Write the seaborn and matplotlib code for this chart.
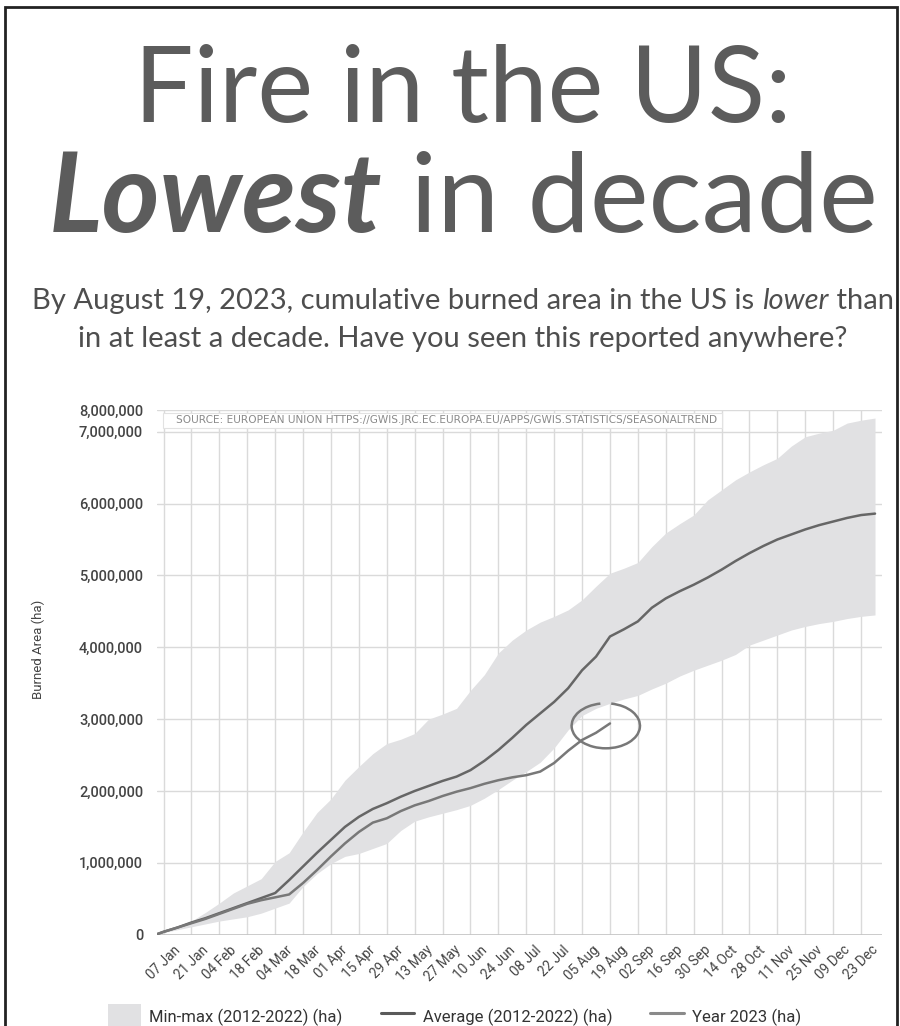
import numpy as np
import pandas as pd
import seaborn as sns
import matplotlib.pyplot as plt
from matplotlib.patches import Rectangle, Arc, Patch
from matplotlib.lines import Line2D
from matplotlib.ticker import FuncFormatter

# weekly points, day of year
days = [4, 7, 14, 21, 28, 35, 42, 49, 56, 63, 70, 77, 84, 91, 98, 105, 112, 119, 126,
        133, 140, 147, 154, 161, 168, 175, 182, 189, 196, 203, 210, 217, 224, 231, 238,
        245, 252, 259, 266, 273, 280, 287, 294, 301, 308, 315, 322, 329, 336, 343, 350,
        357, 364]
# millions of ha
min_m = [0.00, 0.03, 0.07, 0.11, 0.15, 0.19, 0.22, 0.25, 0.30, 0.37, 0.44, 0.67, 0.85,
         0.99, 1.09, 1.13, 1.20, 1.27, 1.45, 1.58, 1.64, 1.69, 1.74, 1.80, 1.90, 2.02,
         2.15, 2.27, 2.40, 2.60, 2.85, 3.05, 3.15, 3.22, 3.28, 3.33, 3.42, 3.50, 3.60,
         3.68, 3.75, 3.82, 3.90, 4.03, 4.10, 4.17, 4.24, 4.29, 4.33, 4.36, 4.40, 4.43, 4.45]
max_m = [0.01, 0.05, 0.12, 0.19, 0.31, 0.44, 0.58, 0.68, 0.78, 1.02, 1.14, 1.43, 1.70,
         1.89, 2.15, 2.34, 2.52, 2.66, 2.72, 2.80, 3.00, 3.07, 3.15, 3.40, 3.62, 3.92,
         4.10, 4.24, 4.35, 4.43, 4.52, 4.66, 4.85, 5.03, 5.10, 5.18, 5.40, 5.59, 5.72,
         5.84, 6.05, 6.19, 6.33, 6.44, 6.54, 6.63, 6.80, 6.93, 6.98, 7.02, 7.12, 7.16, 7.19]
avg_m = [0.01, 0.04, 0.10, 0.17, 0.23, 0.30, 0.37, 0.44, 0.51, 0.58, 0.76, 0.95, 1.14,
         1.32, 1.50, 1.64, 1.75, 1.83, 1.92, 2.00, 2.07, 2.14, 2.20, 2.29, 2.42, 2.57,
         2.74, 2.92, 3.08, 3.24, 3.43, 3.68, 3.87, 4.15, 4.25, 4.36, 4.55, 4.68, 4.78,
         4.87, 4.97, 5.08, 5.20, 5.31, 5.41, 5.50, 5.57, 5.64, 5.70, 5.75, 5.80, 5.84, 5.86]
days_2023 = days[:34]
y2023_m = [0.01, 0.04, 0.10, 0.16, 0.22, 0.29, 0.36, 0.43, 0.48, 0.52, 0.56, 0.72, 0.90,
           1.09, 1.27, 1.43, 1.56, 1.62, 1.72, 1.80, 1.86, 1.93, 1.99, 2.04, 2.10, 2.15,
           2.19, 2.22, 2.27, 2.39, 2.56, 2.71, 2.81, 2.94]

tick_days = [7, 21, 35, 49, 63, 77, 91, 105, 119, 133, 147, 161, 175, 189, 203, 217, 231,
             245, 259, 273, 287, 301, 315, 329, 343, 357]
tick_labels = ['07 Jan', '21 Jan', '04 Feb', '18 Feb', '04 Mar', '18 Mar', '01 Apr',
               '15 Apr', '29 Apr', '13 May', '27 May', '10 Jun', '24 Jun', '08 Jul',
               '22 Jul', '05 Aug', '19 Aug', '02 Sep', '16 Sep', '30 Sep', '14 Oct',
               '28 Oct', '11 Nov', '25 Nov', '09 Dec', '23 Dec']
y_ticks = [0, 1e6, 2e6, 3e6, 4e6, 5e6, 6e6, 7e6, 8e6]

df = pd.DataFrame({'day': days, 'min': np.array(min_m) * 1e6,
                   'max': np.array(max_m) * 1e6, 'avg': np.array(avg_m) * 1e6})
df23 = pd.DataFrame({'day': days_2023, 'y': np.array(y2023_m) * 1e6})

TXT = '#5c5c5c'
BAND = '#e1e1e3'
AVG_C = '#666666'
Y23_C = '#787878'

sns.set_style('white')
plt.rcParams['font.family'] = ['Roboto', 'DejaVu Sans']

fig = plt.figure(figsize=(9, 10.26), dpi=100)
W, H = 900, 1026
ax = fig.add_axes([157 / W, 1 - 934.7 / H, 725 / W, 524.7 / H])

# top of the original chart was cut: squeeze everything above 7.2M
BRK, K = 7.2e6, 0.1275
def fwd(y):
    y = np.asarray(y, dtype=float)
    return np.where(y <= BRK, y, BRK + (y - BRK) * K)
def inv(y):
    y = np.asarray(y, dtype=float)
    return np.where(y <= BRK, y, BRK + (y - BRK) / K)
ax.set_yscale('function', functions=(fwd, inv))

ax.fill_between(df['day'], df['min'], df['max'], color=BAND, lw=0, zorder=1)
sns.lineplot(data=df, x='day', y='avg', ax=ax, color=AVG_C, lw=1.8, zorder=3)
sns.lineplot(data=df23, x='day', y='y', ax=ax, color=Y23_C, lw=1.8, zorder=3)

X0, X1 = 3.7, 367.5
ax.set_xlim(X0, X1)
ax.set_ylim(0, 8e6)

# hand-drawn circle round the end of the 2023 line (axes coords, the y scale is not affine)
cx, cy = ax.transAxes.inverted().transform(ax.transData.transform((228.9, 2.907e6)))
ax.add_patch(Arc((cx, cy), 34.3 / (X1 - X0), 0.626e6 / float(fwd(8e6)), theta1=100,
                 theta2=440, transform=ax.transAxes, color=Y23_C, lw=1.8, zorder=4))

ax.set_yticks(y_ticks)
ax.yaxis.set_major_formatter(FuncFormatter(lambda v, p: f'{v:,.0f}'))
ax.yaxis.set_minor_locator(plt.NullLocator())
ax.set_xticks(tick_days)
ax.set_xticklabels(tick_labels, rotation=45, ha='center', va='top')
ax.tick_params(axis='x', length=0, pad=6, labelsize=9.8, labelcolor='#444444')
ax.tick_params(axis='y', length=0, pad=10, labelsize=10.5, labelcolor='#444444')
for t in ax.get_yticklabels():
    t.set_fontweight('medium')
ax.grid(True, color='#dadada', lw=1)
ax.set_axisbelow(True)
for s in ax.spines.values():
    s.set_visible(False)
ax.axhline(0, color='#c4c4c4', lw=1.2, zorder=0.6)
ax.set_xlabel('')
ax.set_ylabel('Burned Area (ha)', fontsize=9.5, color='#444444')
ax.yaxis.set_label_coords(-0.1545, 0.543)

# source box
ax.add_patch(Rectangle((0.008, 0.966), 0.771, 0.028, transform=ax.transAxes,
                       facecolor='white', edgecolor='#e2e2e2', lw=0.8, zorder=5))
ax.text(0.026, 0.98, 'SOURCE: EUROPEAN UNION HTTPS://GWIS.JRC.EC.EUROPA.EU/APPS/GWIS.STATISTICS/SEASONALTREND',
        transform=ax.transAxes, fontsize=7.6, color='#8a8a8a', va='center', zorder=6,
        family=['Liberation Sans Narrow', 'DejaVu Sans'])

# legend
handles = [Patch(facecolor=BAND, edgecolor='none'),
           Line2D([], [], color='#5a5a5a', lw=2.2),
           Line2D([], [], color='#8a8a8a', lw=2.2)]
labels = ['Min-max (2012-2022) (ha)', 'Average (2012-2022) (ha)', 'Year 2023 (ha)']
fig.legend(handles, labels, loc='center', bbox_to_anchor=(0.505, 1 - 1017 / H), ncol=3,
           frameon=False, fontsize=12, handlelength=2, handleheight=2,
           columnspacing=2.3, handletextpad=0.5, labelcolor='#333333')

# titles
renderer = fig.canvas.get_renderer()
def rich_line(parts, y_px, size, color=TXT, cx=463):
    objs = [fig.text(0, 1 - y_px / H, s, fontsize=size, color=color, va='baseline',
                     family=['Lato', 'DejaVu Sans'], **kw) for s, kw in parts]
    widths = [o.get_window_extent(renderer).width for o in objs]
    x = cx - sum(widths) / 2
    for o, w in zip(objs, widths):
        o.set_x(x / W)
        x += w

rich_line([('Fire in the US:', {})], 122, 76)
rich_line([('Lowest', {'fontweight': 'bold', 'fontstyle': 'italic'}),
           (' in decade', {})], 232, 80)
rich_line([('By August 19, 2023, cumulative burned area in the US is ', {}),
           ('lower', {'fontstyle': 'italic'}), (' than', {})], 309, 21, '#4e4e4e')
rich_line([('in at least a decade. Have you seen this reported anywhere?', {})], 347, 21,
          '#4e4e4e')

fig.add_artist(Rectangle((5 / W, -0.05), 892 / W, 1.05 - 7 / H, transform=fig.transFigure,
                         fill=False, edgecolor='#222222', lw=2))

fig.savefig('out.png', dpi=100)
